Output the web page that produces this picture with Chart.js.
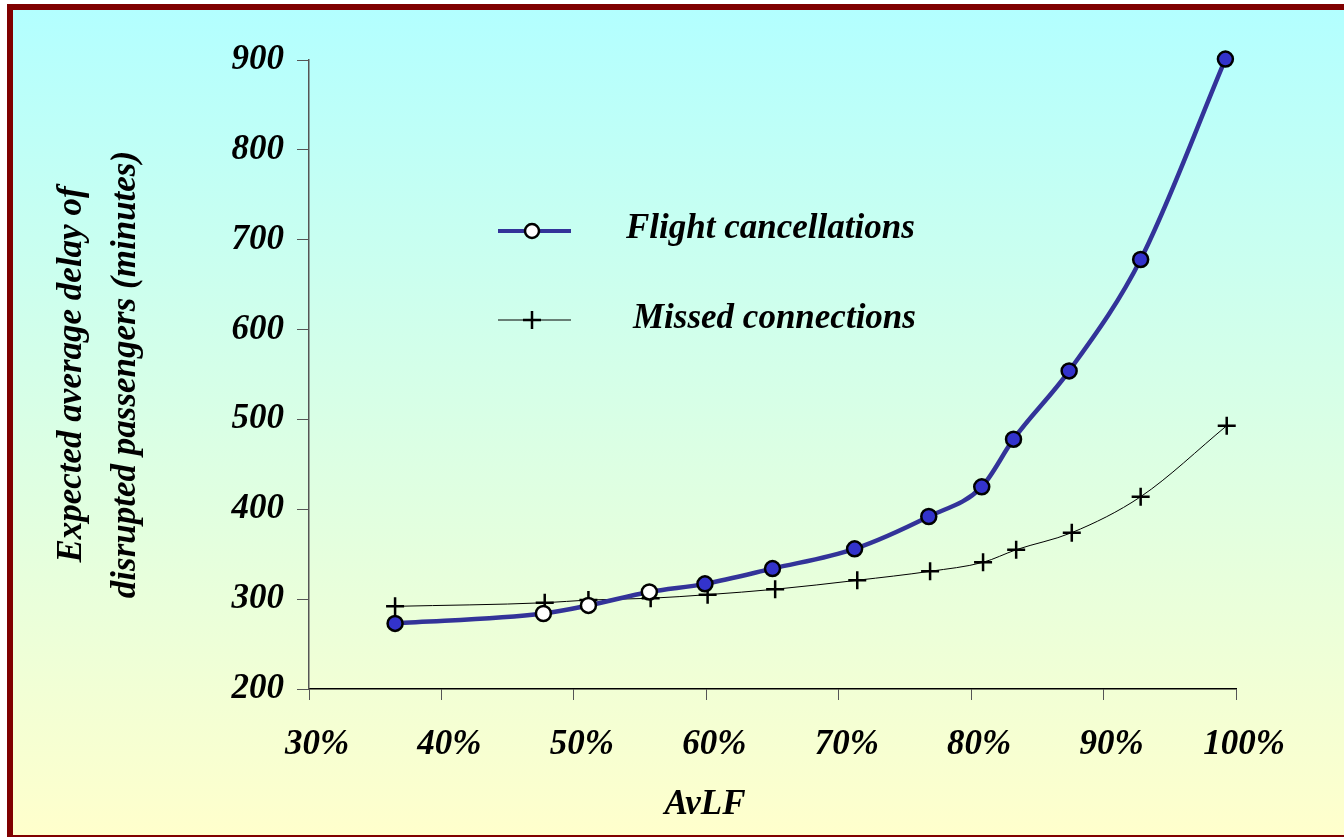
<!DOCTYPE html>
<html>
<head>
<meta charset="utf-8">
<script src="https://cdn.jsdelivr.net/npm/chart.js@4.4.1/dist/chart.umd.min.js"></script>
<style>
  html, body { margin: 0; padding: 0; width: 1344px; height: 837px; overflow: hidden; background: #fff; }
  #frame {
    position: absolute; left: 7px; top: 4px; width: 1360px; height: 825px;
    border: 6px solid #800000;
    background: linear-gradient(to bottom, #b3ffff 0%, #ffffcc 100%);
  }
</style>
</head>
<body>
<div id="frame"></div>
<canvas id="delayChart" width="1344" height="837" style="position:absolute;left:0;top:0"></canvas>
<script>
// values (AvLF in %, delay in minutes)
const flightLF = [36.5, 47.7, 51.1, 55.7, 59.9, 65.0, 71.2, 76.8, 80.8, 83.2, 87.4, 92.8, 99.2];
const flightDelay = [273, 284, 293, 308, 317, 334, 356, 392, 425, 478, 554, 678, 901];
const missedLF = [36.5, 47.8, 51.1, 55.8, 60.1, 65.2, 71.4, 76.9, 80.9, 83.4, 87.6, 92.8, 99.3];
const missedDelay = [292, 296, 299, 301, 305, 311, 321, 331, 341, 355, 374, 414, 493];
const seriesNames = ['Flight cancellations', 'Missed connections'];
const xTitle = 'AvLF';
const yTitle = ['Expected average delay of', 'disrupted passengers (minutes)'];

const FONT = { family: '"Liberation Serif", "Times New Roman", serif', size: 35, weight: 'bold', style: 'italic' };
const BLUE_LINE = '#333399';
const BLUE_DOT = '#3333cc';

function toPoints(xs, ys) {
  return xs.map((x, i) => ({ x: x, y: ys[i] }));
}

// legend + x title drawn inside the chart like the original
const overlayPlugin = {
  id: 'overlay',
  afterDraw(chart) {
    const c = chart.ctx;
    c.save();
    c.font = 'italic bold 35px "Liberation Serif", serif';
    c.fillStyle = '#000';
    c.textBaseline = 'alphabetic';

    // entry 1
    c.strokeStyle = BLUE_LINE;
    c.lineWidth = 4;
    c.beginPath(); c.moveTo(498, 231); c.lineTo(571, 231); c.stroke();
    c.beginPath(); c.arc(532, 231, 7, 0, Math.PI * 2);
    c.fillStyle = '#fff'; c.fill();
    c.lineWidth = 2.5; c.strokeStyle = '#000'; c.stroke();
    c.fillStyle = '#000';
    c.fillText(seriesNames[0], 626, 238);

    // entry 2
    c.strokeStyle = '#000';
    c.lineWidth = 1;
    c.beginPath(); c.moveTo(498, 320); c.lineTo(571, 320); c.stroke();
    c.lineWidth = 2.5;
    c.beginPath(); c.moveTo(523, 320); c.lineTo(541, 320); c.moveTo(532, 311); c.lineTo(532, 329); c.stroke();
    c.fillText(seriesNames[1], 633, 328);

    // x axis title
    c.textAlign = 'center';
    c.textBaseline = 'middle';
    c.fillText(xTitle, 705, 805);
    c.restore();
  }
};

const ctx = document.getElementById('delayChart');
new Chart(ctx, {
  type: 'scatter',
  data: {
    datasets: [{
      label: seriesNames[0],
      data: toPoints(flightLF, flightDelay),
      showLine: true,
      borderColor: BLUE_LINE,
      borderWidth: 4.5,
      cubicInterpolationMode: 'monotone',
      pointRadius: 7.5,
      pointBorderWidth: 2.5,
      pointBorderColor: '#000',
      pointBackgroundColor: (c) => (c.dataIndex >= 1 && c.dataIndex <= 3) ? '#ffffff' : BLUE_DOT,
      clip: false
    }, {
      label: seriesNames[1],
      data: toPoints(missedLF, missedDelay),
      showLine: true,
      borderColor: '#000',
      borderWidth: 1,
      cubicInterpolationMode: 'monotone',
      pointStyle: 'cross',
      pointRadius: 9,
      pointBorderWidth: 2.5,
      pointBorderColor: '#000',
      clip: false
    }]
  },
  options: {
    responsive: false,
    animation: false,
    layout: { padding: { left: 0, top: 60, right: 108, bottom: 0 } },
    plugins: {
      legend: { display: false },
      tooltip: { enabled: false }
    },
    scales: {
      x: {
        type: 'linear',
        min: 30,
        max: 100,
        afterFit: (s) => { s.height = 148; },
        border: { display: true, color: '#000', width: 1.5 },
        grid: { drawOnChartArea: false, drawTicks: true, tickLength: 11, color: '#555' },
        ticks: {
          stepSize: 10,
          padding: 24,
          labelOffset: 8,
          color: '#000',
          font: FONT,
          maxRotation: 0,
          callback: (v) => v + '%'
        }
      },
      y: {
        min: 200,
        max: 900,
        afterFit: (s) => { s.width = 309; },
        border: { display: true, color: '#555', width: 1.5 },
        grid: { drawOnChartArea: false, drawTicks: true, tickLength: 12, color: '#555' },
        ticks: {
          stepSize: 100,
          padding: 13,
          color: '#000',
          font: FONT
        },
        title: {
          display: true,
          text: yTitle,
          color: '#000',
          font: { family: FONT.family, size: 35, weight: 'bold', style: 'italic', lineHeight: 1.55 },
          padding: { top: 45, bottom: 0 }
        }
      }
    }
  },
  plugins: [overlayPlugin]
});
</script>
</body>
</html>
